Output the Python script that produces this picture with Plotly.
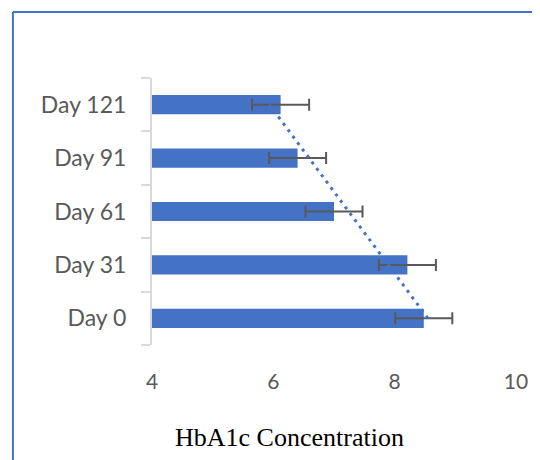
import numpy as np
import plotly.graph_objects as go

categories = ["Day 0", "Day 31", "Day 61", "Day 91", "Day 121"]
hba1c = [8.48, 8.21, 7.00, 6.40, 6.12]
errors = [0.47, 0.47, 0.47, 0.47, 0.47]
x_ticks = [4, 6, 8, 10]

BLUE = "#4472C4"
GREY = "#595959"

# Excel-style linear trendline over category index
idx = np.arange(1, len(categories) + 1)
slope, intercept = np.polyfit(idx, hba1c, 1)
trend = slope * idx + intercept

fig = go.Figure()
fig.add_trace(go.Bar(
    y=categories, x=hba1c, orientation="h", base=0,
    marker=dict(color=BLUE, line=dict(width=0)),
    error_x=dict(type="data", array=errors, color=GREY, thickness=2, width=6),
    showlegend=False,
))
fig.add_trace(go.Scatter(
    y=categories, x=trend, mode="lines",
    line=dict(color=BLUE, width=3, dash="3px,5px"),
    showlegend=False,
))

OFF = 8  # page body margin
W, H = 540 - OFF, 460 - OFF
L = 152 - OFF
T = 78 - OFF
R = W - (521 - OFF)
B = H - (345 - OFF)
pw = W - L - R
ph = H - T - B
bx = (11 - OFF - L) / pw
by = (H - B - (12 - OFF)) / ph

fig.update_layout(
    width=W, height=H,
    margin=dict(l=L, r=R, t=T, b=B),
    paper_bgcolor="white", plot_bgcolor="white",
    bargap=0.64,
    xaxis=dict(range=[4, 10], tickvals=x_ticks, showgrid=False, zeroline=False,
               showline=False, ticks="", ticklabelstandoff=22,
               tickfont=dict(family="Lato, Carlito, sans-serif", size=21, color=GREY)),
    yaxis=dict(type="category", categoryorder="array", categoryarray=categories,
               showgrid=False, showline=True, linecolor="#D9D9D9", linewidth=2,
               ticks="outside", tickson="boundaries", ticklen=9, tickcolor="#D9D9D9",
               tickwidth=2, ticklabelstandoff=19,
               tickfont=dict(family="Lato, Carlito, sans-serif", size=23, color=GREY)),
    shapes=[
        dict(type="line", xref="paper", yref="paper", x0=bx, x1=bx, y0=by, y1=-1,
             line=dict(color=BLUE, width=2)),
        dict(type="line", xref="paper", yref="paper", x0=bx, x1=1.5, y0=by, y1=by,
             line=dict(color=BLUE, width=2)),
    ],
    annotations=[
        dict(text="HbA1c Concentration", xref="paper", yref="paper",
             x=(291 - 152) / pw, y=(345 - 437) / ph, xanchor="center", yanchor="middle",
             showarrow=False,
             font=dict(family="Liberation Serif, Times New Roman, serif", size=26, color="black")),
    ],
)

fig.write_html("out.html")
